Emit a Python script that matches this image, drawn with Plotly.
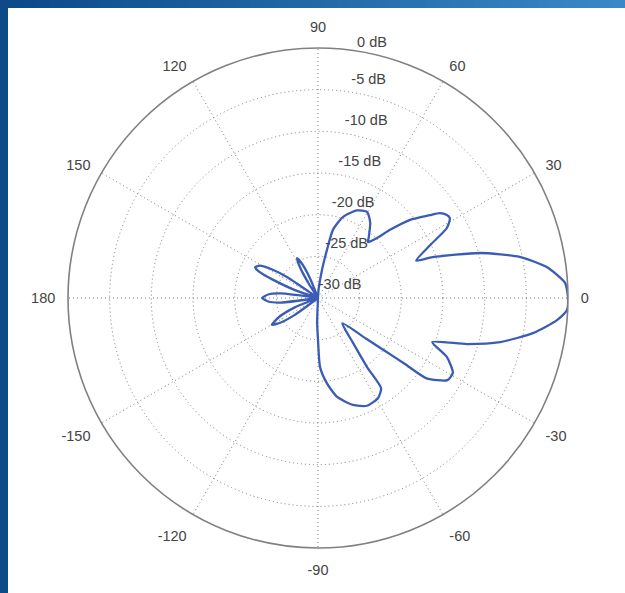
import plotly.graph_objects as go

# Antenna radiation pattern (angle in degrees, gain in dB)
angles_deg = [0, 3.5, 7.7, 11.5, 15.5, 19.6, 20.8, 25.3, 28.5, 31.2, 32.8, 34.9, 36.5,
              40.3, 43.4, 45.5, 48.2, 50.1, 55.3, 60.3, 66.0, 72.8, 77.6, 79.4, 81.9,
              86, 90, 108, 112, 115, 117.7, 120, 123, 126, 143, 146, 148, 151, 154,
              156, 158, 161, 164, 170, 173, 176, 180, 184, 187, 190, 198, 202, 206,
              210, 213, 216, 220, 264, 268, 270, 271.7, 276, 281, 288.1, 294.4, 301,
              305, 305.4, 308, 313.8, 319.9, 321.7, 322.8, 323.5, 327.6, 331, 335.4,
              338.9, 342.8, 346.4, 350.8, 354.7, 357.2, 360]
gain_db = [0, -0.3, -2.3, -5.3, -9.8, -15.4, -17.4, -15.1, -12.4, -11.5, -11.6, -12.2, -13.3,
           -15.5, -18.1, -19.9, -21.0, -20.5, -19.0, -18.1, -18.5, -19.8, -21.6, -24.1, -26.6,
           -29, -30, -30, -27.5, -25.5, -24.6, -25.5, -28, -30, -30, -25.5, -23.6, -22.0, -21.6,
           -22.3, -24.2, -27, -30, -30, -25.5, -24, -23.3, -24, -25.5, -30, -30, -27, -24.8,
           -23.6, -24.5, -26.5, -30, -30, -27, -25, -21.7, -19.7, -17.9, -16.5, -15.8, -16.0,
           -16.8, -19.8, -23.2, -25.8, -22.3, -19.8, -16.9, -13.8, -11.6, -11.5, -13.0,
           -15.3, -11.3, -7.5, -3.8, -1.2, -0.1, 0]

angle_ticks = [0, 30, 60, 90, 120, 150, 180, 210, 240, 270, 300, 330]
angle_labels = ["0", "30", "60", "90", "120", "150", "180", "-150", "-120", "-90", "-60", "-30"]
radial_ticks = [-30, -25, -20, -15, -10, -5, 0]
radial_labels = ["-30 dB", "-25 dB", "-20 dB", "-15 dB", "-10 dB", "-5 dB", "0 dB"]
label_angle = 81
label_lift_db = 0.6  # labels sit slightly outside their ring

W, H = 625, 593
cx, cy, R = 318, 298, 250

font = dict(family="Liberation Sans, Arial, sans-serif", size=14.5, color="#444444")

fig = go.Figure()
fig.add_trace(go.Scatterpolar(
    r=gain_db, theta=angles_deg, mode="lines",
    line=dict(color="#3a5cb5", width=2.3, shape="spline", smoothing=0.6),
    thetaunit="degrees", showlegend=False, hoverinfo="skip",
))
fig.add_trace(go.Scatterpolar(
    r=[min(v + label_lift_db, 0) for v in radial_ticks],
    theta=[label_angle] * len(radial_ticks),
    mode="text", text=radial_labels, textposition="top right", textfont=font,
    cliponaxis=False, showlegend=False, hoverinfo="skip",
))

fig.update_layout(
    width=W, height=H,
    margin=dict(l=0, r=0, t=0, b=0),
    paper_bgcolor="white",
    font=font,
    polar=dict(
        domain=dict(x=[(cx - R) / W, (cx + R) / W],
                    y=[(H - cy - R) / H, (H - cy + R) / H]),
        bgcolor="white",
        radialaxis=dict(
            range=[-30, 0], tickmode="array", tickvals=radial_ticks,
            showticklabels=False, showline=False, ticks="",
            showgrid=True, gridcolor="#7a7a7a", griddash="1px,3px", gridwidth=1,
        ),
        angularaxis=dict(
            rotation=0, direction="counterclockwise",
            tickmode="array", tickvals=angle_ticks, ticktext=angle_labels,
            showline=True, linecolor="#808080", linewidth=1.6,
            ticks="outside", ticklen=9, tickcolor="rgba(0,0,0,0)",
            showgrid=True, gridcolor="#7a7a7a", griddash="1px,3px", gridwidth=1,
            tickfont=font,
        ),
    ),
)

# decorative blue frame (left and top bands, gradient on top)
shapes = [dict(type="rect", xref="paper", yref="paper", x0=0, x1=8 / W, y0=0, y1=1,
               fillcolor="#0c4a88", line=dict(width=0), layer="above")]
n = 50
c0 = (12, 74, 136)
c1 = (58, 136, 200)
for i in range(n):
    t = i / (n - 1)
    col = tuple(int(c0[k] + (c1[k] - c0[k]) * t) for k in range(3))
    shapes.append(dict(type="rect", xref="paper", yref="paper",
                       x0=i / n, x1=(i + 1) / n + 0.001, y0=1 - 8 / H, y1=1,
                       fillcolor="rgb(%d,%d,%d)" % col, line=dict(width=0), layer="above"))
fig.update_layout(shapes=shapes)

fig.write_html("out.html", config={"displayModeBar": False},
               post_script="document.body.style.margin='0';document.body.style.overflow='hidden';")
